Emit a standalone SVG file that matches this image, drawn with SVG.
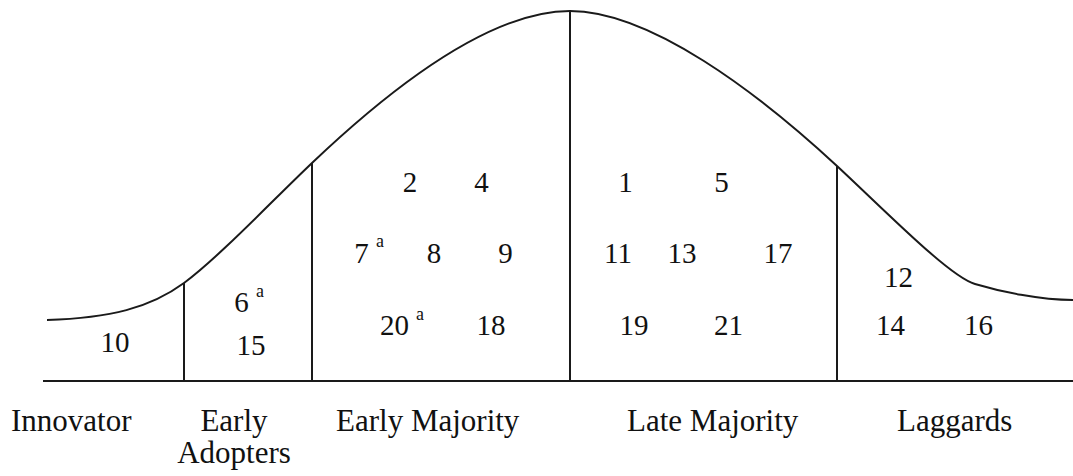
<svg xmlns="http://www.w3.org/2000/svg" width="1073" height="476" viewBox="0 0 1073 476">
<style>
  .ln{fill:none;stroke:#1a1a1a;stroke-width:2}
  text{font-family:'Liberation Serif','Times New Roman',serif;fill:#111}
  .num{font-size:29px;text-anchor:middle}
  .sup{font-size:18px;text-anchor:middle}
  .lbl{font-size:31px}
</style>
<rect width="1073" height="476" fill="#fff"/>
<g id="connectors">
  <path id="curve" class="ln" d="M47,320 C110,318 150,308 184,283 C219,257 272,201 312,163 C392,87 490,11 570,11 C650,11 757,92 837,166 C887,212.5 950,277 975,284 C1000,291.5 1040,300 1073,300"/>
  <line id="axis" class="ln" x1="43" y1="381" x2="1073" y2="381"/>
  <line class="ln" x1="184" y1="283" x2="184" y2="381"/>
  <line class="ln" x1="312" y1="163" x2="312" y2="381"/>
  <line class="ln" x1="570" y1="11" x2="570" y2="381"/>
  <line class="ln" x1="837" y1="166" x2="837" y2="381"/>
</g>
<g id="innovator">
  <text class="num" x="115" y="352">10</text>
  <text class="lbl" x="11" y="431">Innovator</text>
</g>
<g id="early-adopters">
  <text class="num" x="241.5" y="312">6</text>
  <text class="sup" x="260" y="297">a</text>
  <text class="num" x="251" y="355">15</text>
  <text class="lbl" x="234" y="431" text-anchor="middle">Early</text>
  <text class="lbl" x="234" y="463" text-anchor="middle">Adopters</text>
</g>
<g id="early-majority">
  <text class="num" x="410" y="192">2</text>
  <text class="num" x="481.5" y="192">4</text>
  <text class="num" x="361.5" y="263">7</text>
  <text class="sup" x="380" y="247">a</text>
  <text class="num" x="434" y="263">8</text>
  <text class="num" x="505.5" y="263">9</text>
  <text class="num" x="394.5" y="335">20</text>
  <text class="sup" x="420" y="320">a</text>
  <text class="num" x="491" y="335">18</text>
  <text class="lbl" x="336" y="431">Early Majority</text>
</g>
<g id="late-majority">
  <text class="num" x="625.5" y="192">1</text>
  <text class="num" x="721.5" y="192">5</text>
  <text class="num" x="618" y="263">11</text>
  <text class="num" x="682" y="263">13</text>
  <text class="num" x="778" y="263">17</text>
  <text class="num" x="634" y="335">19</text>
  <text class="num" x="728.5" y="335">21</text>
  <text class="lbl" x="627" y="431">Late Majority</text>
</g>
<g id="laggards">
  <text class="num" x="898.5" y="287">12</text>
  <text class="num" x="890.5" y="335">14</text>
  <text class="num" x="978.5" y="335">16</text>
  <text class="lbl" x="897" y="431">Laggards</text>
</g>
</svg>
